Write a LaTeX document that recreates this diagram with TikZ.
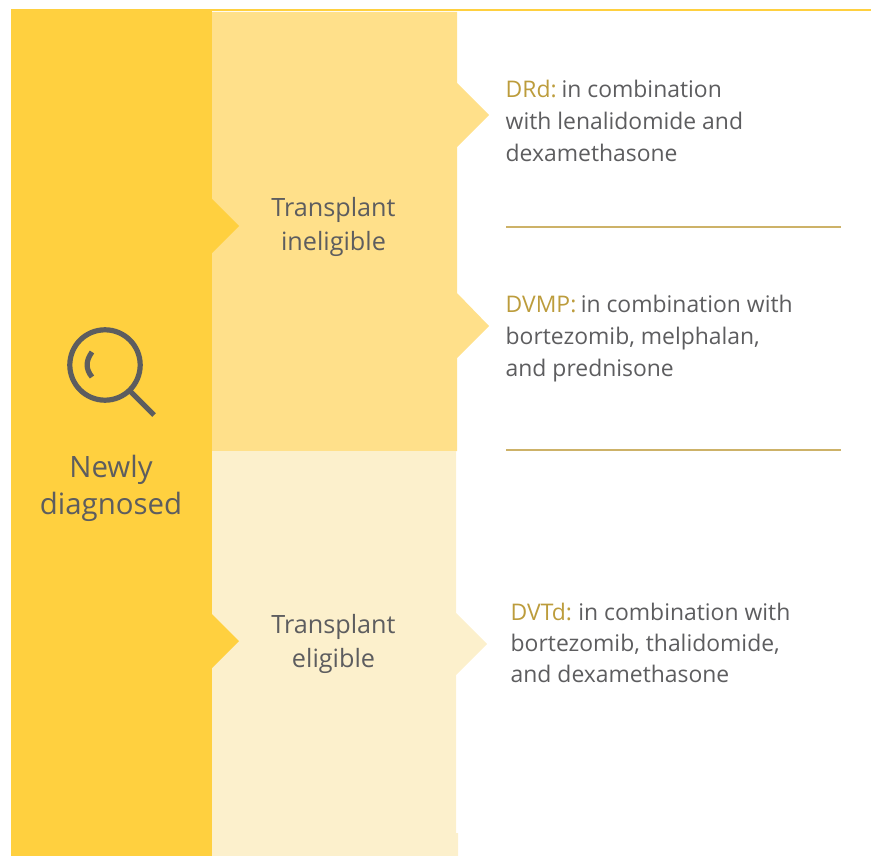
\documentclass[tikz,border=0pt]{standalone}
\usepackage{fontspec}
\setmainfont{Open Sans}
\definecolor{ygold}{HTML}{FFD03F}
\definecolor{ymid}{HTML}{FFE08A}
\definecolor{ypale}{HTML}{FCF0CC}
\definecolor{lbl}{HTML}{BC9C3C}
\definecolor{txt}{HTML}{5D5D5F}
\definecolor{rulec}{HTML}{CDB268}
\tikzset{
  x=1pt,y=-1pt,
  txtnode/.style={inner sep=0pt,text=txt,align=center,font=\fontsize{25.2}{33.5}\selectfont},
  drug/.style={inner sep=0pt,anchor=north west,text=txt,align=left,font=\fontsize{22.9}{32}\selectfont},
  drugtight/.style={drug,font=\fontsize{22.9}{30.8}\selectfont},
  sep/.style={draw=rulec,line width=1.3pt},
  icon/.style={draw=txt,line width=5.2pt}
}
\begin{document}
\begin{tikzpicture}
\useasboundingbox (0,0) rectangle (871,856);
\fill[ygold] (11,9) rectangle (871,11.5);
\fill[ygold] (11,9) rectangle (212,856);
\fill[ymid] (212,12) -- (457,12) -- (457,83) -- (489,115) -- (457,147) -- (457,293) -- (489,326) -- (457,358) -- (457,451) -- (212,451) -- cycle;
\fill[ypale] (212,451) -- (456,451) -- (456,613) -- (487,644) -- (456,675) -- (456,833) -- (458,833) -- (458,856) -- (212,856) -- cycle;
\fill[ygold] (212,199) -- (239,226) -- (212,253) -- cycle;
\fill[ygold] (212,614) -- (239,641) -- (212,668) -- cycle;
% icon
\draw[icon] (105,365) circle (35.2);
\draw[icon] (92,352) .. controls (85.5,361) and (85.5,369) .. (92,377);
\draw[icon] (130,391) -- (154,415);
\node[txtnode,font=\fontsize{29.4}{37}\selectfont] (newly) at (111,488.5) {Newly\\diagnosed};
\node[txtnode] (inel) at (333.5,227) {Transplant\\ineligible};
\node[txtnode] (elig) at (333.5,644) {Transplant\\eligible};
\node[drug] (drd) at (505.5,80) {\textcolor{lbl}{DRd:}\kern-3pt{} in combination\\with lenalidomide and\\dexamethasone};
\node[drug] (dvmp) at (505.5,295) {\textcolor{lbl}{DVMP:}\kern-1.5pt{} in combination with\\bortezomib, melphalan,\\and prednisone};
\node[drugtight] (dvtd) at (510.5,603) {\textcolor{lbl}{DVTd:}\kern-1.5pt{} in combination with\\bortezomib, thalidomide,\\and dexamethasone};
\coordinate (s1a) at (506,227); \coordinate (s1b) at (841,227);
\coordinate (s2a) at (506,450); \coordinate (s2b) at (841,450);
\draw[sep] (s1a) -- (s1b);
\draw[sep] (s2a) -- (s2b);
\end{tikzpicture}
\end{document}
